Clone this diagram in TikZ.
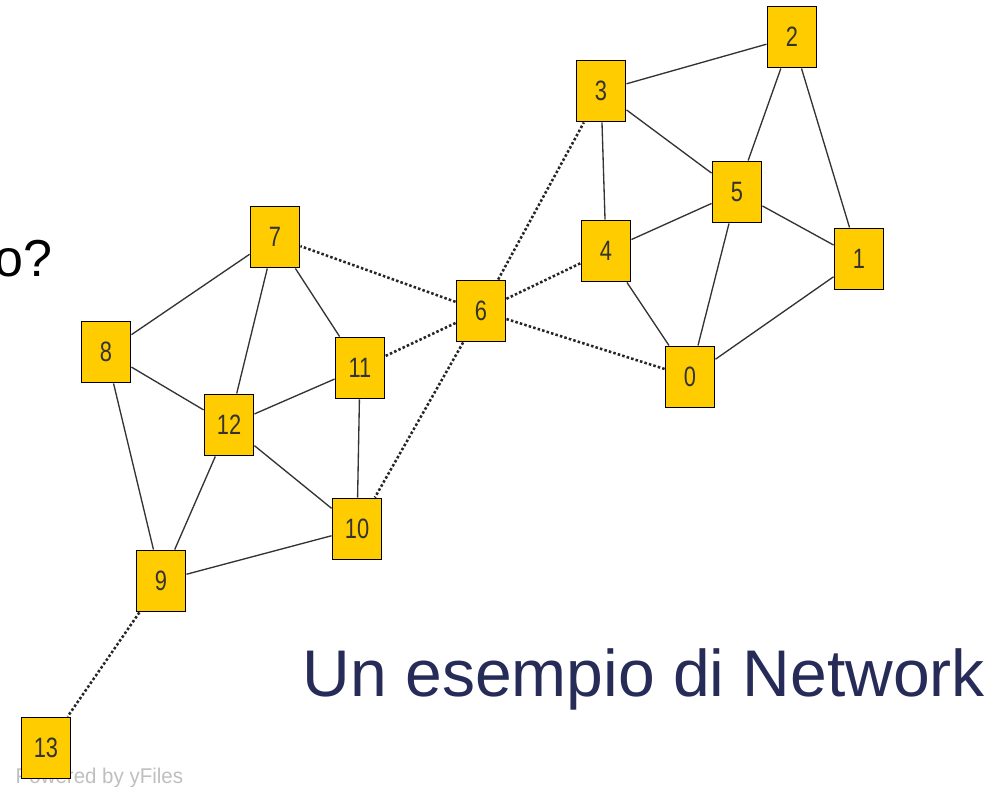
\documentclass[tikz,border=0pt]{standalone}
\usepackage{fontspec}
\setmainfont{Liberation Sans}
\newfontfamily\labelfont{Liberation Sans}[FakeStretch=0.78]
\newfontfamily\creditfont{Liberation Sans}[FakeStretch=0.96]
\definecolor{nodeyellow}{HTML}{FFCC00}
\definecolor{titleblue}{HTML}{262B58}
\definecolor{edgegray}{HTML}{333333}

\begin{document}
\begin{tikzpicture}[x=0.75pt,y=-0.75pt,
    main node/.style={rectangle,draw=black,line width=1.2pt,fill=nodeyellow,inner sep=0pt,
        minimum width=37pt,minimum height=46pt,text=black!80,font=\labelfont\fontsize{21}{21}\selectfont},
    strong link/.style={draw=edgegray,line width=1pt},
    weak link/.style={draw=black!85,line width=1.9pt,dash pattern=on 1.9pt off 1.6pt}]
    \useasboundingbox (0,0) rectangle (998,787);

    % texts
    \node[anchor=base east,font=\fontsize{39}{39}\selectfont] (question) at (57,277) {o?};
    \node[anchor=base west,text=titleblue,font=\fontsize{49.5}{49.5}\selectfont] (title) at (298,696) {Un esempio di Network};
    \node[anchor=base west,text=black!25,font=\creditfont\fontsize{16}{16}\selectfont] (credit) at (11,783) {Powered by yFiles};

    % nodes
    \node[main node] (0) at (690,377) {0};
    \node[main node] (1) at (859,259) {1};
    \node[main node] (2) at (792,37) {2};
    \node[main node] (3) at (601,91) {3};
    \node[main node] (4) at (606,251) {4};
    \node[main node] (5) at (737,192) {5};
    \node[main node] (6) at (481,311) {6};
    \node[main node] (7) at (275,237) {7};
    \node[main node] (8) at (106,352) {8};
    \node[main node] (9) at (161,581) {9};
    \node[main node] (10) at (357,529) {10};
    \node[main node] (11) at (360,368) {11};
    \node[main node] (12) at (229,425) {12};
    \node[main node] (13) at (46,748) {13};

    \path[strong link]
        (3) edge (2)
        (3) edge (5)
        (3) edge (4)
        (2) edge (5)
        (2) edge (1)
        (5) edge (4)
        (5) edge (1)
        (5) edge (0)
        (4) edge (0)
        (1) edge (0)
    ;

    \path[strong link]
        (7) edge (8)
        (7) edge (12)
        (7) edge (11)
        (8) edge (12)
        (8) edge (9)
        (12) edge (11)
        (12) edge (9)
        (12) edge (10)
        (11) edge (10)
        (9) edge (10)
    ;

    \path[weak link]
        (6) edge (7)
        (6) edge (3)
        (6) edge (4)
        (6) edge (0)
        (6) edge (11)
        (6) edge (10)
        (9) edge (13)
    ;
\end{tikzpicture}
\end{document}
